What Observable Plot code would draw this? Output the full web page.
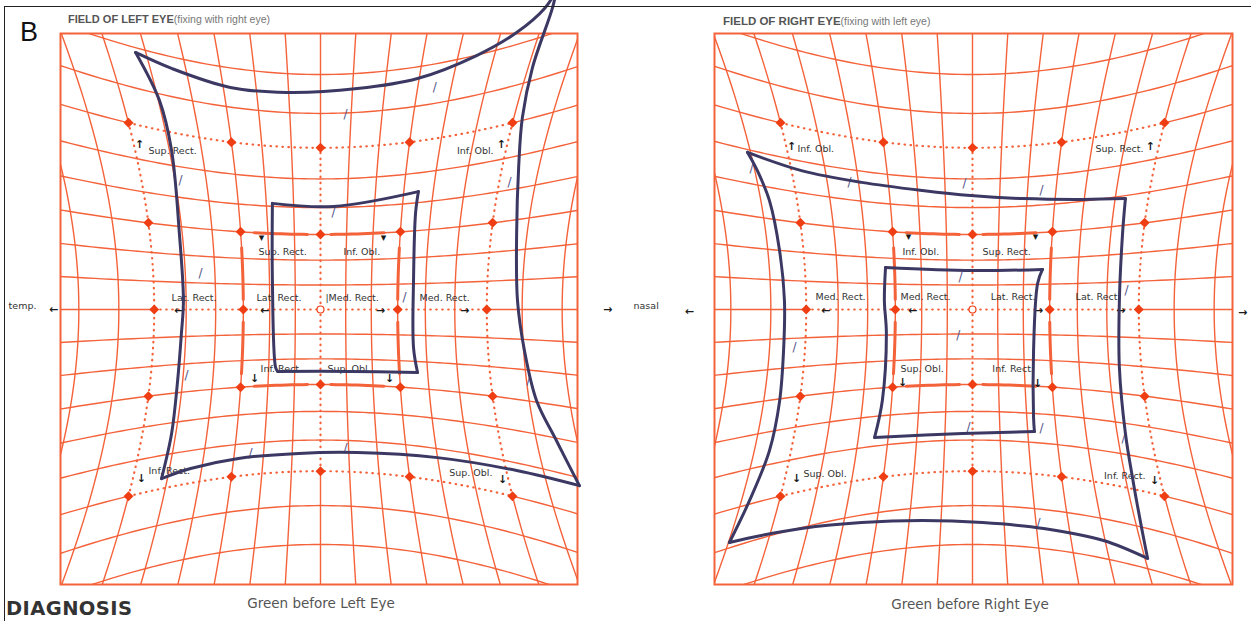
<!DOCTYPE html>
<html><head><meta charset="utf-8">
<script src="https://cdn.jsdelivr.net/npm/d3@7"></script>
<script src="https://cdn.jsdelivr.net/npm/@observablehq/plot@0.6"></script>
<style>
body{margin:0;background:#fff;}
#fig{position:relative;width:1251px;height:621px;overflow:hidden;background:#fff;}
.abs{position:absolute;white-space:nowrap;line-height:1;}
.pan{position:absolute;top:0;}
</style></head><body><div id="fig"></div>
<script>
// ---------- data ----------
// Hess grid lines every 5 degrees (horizontal angle theta / vertical angle phi)
const gridDeg = [-45,-40,-35,-30,-25,-20,-15,-10,-5,0,5,10,15,20,25,30,35,40,45];
// test points (degrees)
const outerDots = [[-30,30],[-15,30],[0,30],[15,30],[30,30],[-30,15],[30,15],[-30,0],[30,0],[-30,-15],[30,-15],[-30,-30],[-15,-30],[0,-30],[15,-30],[30,-30]];
const innerDots = [[-15,15],[0,15],[15,15],[-15,0],[15,0],[-15,-15],[0,-15],[15,-15]];

// plotted fields (screen units), one array per side: top, right, bottom, left
const leftOuter = [
  [[-0.642,0.918],[-0.517,0.861],[-0.313,0.793],[-0.118,0.775],[0.128,0.789],[0.337,0.825],[0.542,0.907],[0.681,0.989],[0.778,1.075],[0.819,1.139]],
  [[0.819,1.139],[0.806,1.079],[0.736,0.864],[0.701,0.686],[0.688,0.507],[0.681,0.271],[0.684,0.032],[0.708,-0.146],[0.750,-0.325],[0.819,-0.468],[0.899,-0.629]],
  [[0.899,-0.629],[0.681,-0.575],[0.406,-0.529],[0.128,-0.511],[-0.076,-0.514],[-0.285,-0.532],[-0.451,-0.568],[-0.552,-0.604]],
  [[-0.552,-0.604],[-0.517,-0.443],[-0.497,-0.264],[-0.483,-0.086],[-0.476,0.032],[-0.490,0.271],[-0.517,0.568],[-0.559,0.746],[-0.642,0.918]]
];
const leftInner = [
  [[-0.167,0.379],[0.045,0.368],[0.340,0.421]],
  [[0.340,0.421],[0.330,0.343],[0.323,0.104],[0.323,-0.136],[0.337,-0.225]],
  [[0.337,-0.225],[0.104,-0.221],[-0.149,-0.221]],
  [[-0.149,-0.221],[-0.156,-0.207],[-0.167,0.104],[-0.167,0.379]]
];
const rightOuter = [
  [[-0.781,0.561],[-0.594,0.496],[-0.385,0.454],[-0.174,0.425],[-0.007,0.407],[0.174,0.396],[0.385,0.393],[0.531,0.396]],
  [[0.531,0.396],[0.521,0.271],[0.510,0.032],[0.510,-0.207],[0.531,-0.443],[0.559,-0.621],[0.587,-0.779],[0.608,-0.889]],
  [[0.608,-0.889],[0.455,-0.825],[0.247,-0.782],[0.035,-0.761],[-0.174,-0.754],[-0.385,-0.761],[-0.594,-0.782],[-0.733,-0.807],[-0.844,-0.832]],
  [[-0.844,-0.832],[-0.774,-0.682],[-0.705,-0.504],[-0.670,-0.329],[-0.656,-0.146],[-0.653,0.032],[-0.670,0.211],[-0.705,0.389],[-0.747,0.496],[-0.781,0.561]]
];
const rightInner = [
  [[-0.302,0.150],[0.000,0.139],[0.243,0.143]],
  [[0.243,0.143],[0.226,0.093],[0.212,-0.146],[0.212,-0.386],[0.215,-0.436]],
  [[0.215,-0.436],[-0.035,-0.443],[-0.340,-0.457]],
  [[-0.340,-0.457],[-0.313,-0.325],[-0.299,-0.086],[-0.306,0.032],[-0.302,0.150]]
];

// small pencil ticks
const leftTicks = [[0.087,0.696],[0.397,0.793],[-0.486,0.461],[-0.417,0.129],[0.292,0.043],[-0.465,-0.236],[-0.243,-0.514],[0.087,-0.496],[0.722,-0.254],[0.656,0.454],[0.045,0.346]];
const rightTicks = [[-0.427,0.454],[-0.028,0.450],[0.240,0.425],[-0.767,0.504],[0.535,0.068],[-0.049,-0.093],[-0.618,-0.136],[-0.701,-0.493],[-0.014,-0.421],[0.240,-0.425],[0.229,-0.764],[0.524,-0.461],[-0.042,0.114]];

// labels: t = text, u/v = position (screen units), a = anchor
const leftLabels = [
  {t:"↑",u:-0.628,v:0.589,a:"middle"},{t:"Sup. Rect.",u:-0.597,v:0.568,a:"start"},
  {t:"Inf. Obl.",u:0.601,v:0.568,a:"end"},{t:"↑",u:0.628,v:0.589,a:"middle"},
  {t:"Sup. Rect.",u:-0.215,v:0.204,a:"start"},{t:"Inf. Obl.",u:0.080,v:0.204,a:"start"},
  {t:"▾",u:-0.205,v:0.257,a:"middle"},{t:"▾",u:0.219,v:0.257,a:"middle"},
  {t:"Lat. Rect.",u:-0.517,v:0.043,a:"start"},{t:"Lat. Rect.",u:-0.222,v:0.043,a:"start"},
  {t:"|Med. Rect.",u:0.017,v:0.043,a:"start"},{t:"Med. Rect.",u:0.344,v:0.043,a:"start"},
  {t:"←",u:-0.493,v:-0.004,a:"middle"},{t:"←",u:-0.194,v:-0.004,a:"middle"},
  {t:"→",u:0.208,v:-0.004,a:"middle"},{t:"→",u:0.500,v:-0.004,a:"middle"},
  {t:"temp.",u:-1.083,v:0.011,a:"start"},{t:"←",u:-0.927,v:0.0,a:"middle"},{t:"→",u:0.997,v:0.0,a:"middle"},
  {t:"Inf. Rect.",u:-0.208,v:-0.211,a:"start"},{t:"Sup. Obl.",u:0.024,v:-0.211,a:"start"},
  {t:"↓",u:-0.229,v:-0.246,a:"middle"},{t:"↓",u:0.240,v:-0.246,a:"middle"},
  {t:"↓",u:-0.622,v:-0.604,a:"middle"},{t:"Inf. Rect.",u:-0.597,v:-0.575,a:"start"},
  {t:"Sup. Obl.",u:0.597,v:-0.582,a:"end"},{t:"↓",u:0.632,v:-0.607,a:"middle"}
];
const rightLabels = [
  {t:"↑",u:-0.628,v:0.582,a:"middle"},{t:"Inf. Obl.",u:-0.608,v:0.575,a:"start"},
  {t:"Sup. Rect.",u:0.594,v:0.575,a:"end"},{t:"↑",u:0.618,v:0.582,a:"middle"},
  {t:"Inf. Obl.",u:-0.243,v:0.207,a:"start"},{t:"Sup. Rect.",u:0.035,v:0.207,a:"start"},
  {t:"▾",u:-0.222,v:0.261,a:"middle"},{t:"▾",u:0.219,v:0.261,a:"middle"},
  {t:"Med. Rect.",u:-0.545,v:0.046,a:"start"},{t:"Med. Rect.",u:-0.250,v:0.046,a:"start"},
  {t:"Lat. Rect.",u:0.063,v:0.046,a:"start"},{t:"Lat. Rect.",u:0.358,v:0.046,a:"start"},
  {t:"←",u:-0.510,v:-0.004,a:"middle"},{t:"←",u:-0.208,v:-0.004,a:"middle"},
  {t:"→",u:0.229,v:-0.004,a:"middle"},{t:"→",u:0.514,v:-0.004,a:"middle"},
  {t:"nasal",u:-1.177,v:0.011,a:"start"},{t:"←",u:-0.983,v:-0.007,a:"middle"},{t:"→",u:0.9375,v:-0.011,a:"middle"},
  {t:"Sup. Obl.",u:-0.250,v:-0.211,a:"start"},{t:"Inf. Rect.",u:0.069,v:-0.211,a:"start"},
  {t:"↓",u:-0.243,v:-0.261,a:"middle"},{t:"↓",u:0.226,v:-0.264,a:"middle"},
  {t:"↓",u:-0.611,v:-0.604,a:"middle"},{t:"Sup. Obl.",u:-0.587,v:-0.586,a:"start"},
  {t:"Inf. Rect.",u:0.601,v:-0.593,a:"end"},{t:"↓",u:0.632,v:-0.611,a:"middle"}
];

const titles = ["FIELD OF LEFT EYE","FIELD OF RIGHT EYE"];
const subtitles = ["(fixing with right eye)","(fixing with left eye)"];
const captions = ["Green before Left Eye","Green before Right Eye"];

// ---------- drawing ----------
const RED = "#f4623a", DOT = "#f03e14", BLUE = "#3b3963", TXT = "#333";
const FONT = "DejaVu Sans, sans-serif";
const rad = Math.PI/180;
function proj(t,p){ return [Math.tan(t*rad)/Math.cos(p*rad), Math.tan(p*rad)/Math.cos(t*rad)]; }
function seg(out, id, vertical, fixed, a0, a1){
  for (let a=a0; a<=a1+1e-9; a+=1){
    const [x,y] = vertical ? proj(fixed,a) : proj(a,fixed);
    out.push({x,y,z:id});
  }
}
const solid=[], dotted=[], thick=[];
let n=0;
for (const vertical of [true,false]) for (const g of gridDeg){
  if (g===0 || Math.abs(g)===30){
    seg(solid, n++, vertical, g, -56, -30); seg(solid, n++, vertical, g, 30, 56);
    seg(dotted, n++, vertical, g, -30, 30);
  } else {
    seg(solid, n++, vertical, g, -56, 56);
    if (Math.abs(g)===15){ seg(thick, n++, vertical, g, -12.5, -2); seg(thick, n++, vertical, g, 2, 12.5); }
  }
}
const toPt = a => ({x:proj(a[0],a[1])[0], y:proj(a[0],a[1])[1]});
const edges = poly => poly.flatMap((e,i) => e.map(p => ({x:p[0], y:p[1], z:i})));

function panel(opts){
  const {width, ml, mr, cx, outer, inner, labels, ticks} = opts;
  const fx=288, fy=280, cy=309, top=33, bottom=584, H=621;
  const xd=[(ml+opts.left-cx)/fx, (width-mr+opts.left-cx)/fx];
  const yd=[(cy-bottom)/fy, (cy-top)/fy];
  const isArrow = d => d.t.length===1;
  const txt = (a) => Plot.text(labels.filter(d=>d.a===a && !isArrow(d)), {x:"u", y:"v", text:"t", textAnchor:a, fontSize:9.5, fill:TXT, fontFamily:FONT});
  return Plot.plot({
    width, height:H, marginLeft:ml, marginRight:mr, marginTop:top, marginBottom:H-bottom,
    x:{axis:null, domain:xd}, y:{axis:null, domain:yd},
    style:{background:"transparent"},
    marks:[
      Plot.line(solid, {x:"x", y:"y", z:"z", stroke:RED, strokeWidth:1.4, clip:true}),
      Plot.line(dotted, {x:"x", y:"y", z:"z", stroke:RED, strokeWidth:2.2, strokeDasharray:"0.5,5.5", strokeLinecap:"round", clip:true}),
      Plot.line(thick, {x:"x", y:"y", z:"z", stroke:RED, strokeWidth:3, clip:true}),
      Plot.frame({stroke:RED, strokeWidth:2}),
      Plot.dot(outerDots.concat(innerDots).map(toPt), {x:"x", y:"y", symbol:"diamond2", r:4.5, fill:DOT, stroke:"none"}),
      Plot.dot([toPt([0,0])], {x:"x", y:"y", r:3.5, fill:"white", stroke:DOT, strokeWidth:1.2}),
      txt("start"), txt("end"),
      Plot.text(labels.filter(isArrow), {x:"u", y:"v", text:"t", fontSize:11, fill:"#1a1a1a", fontWeight:"bold", fontFamily:FONT}),
      Plot.text(ticks, {x:d=>d[0], y:d=>d[1], text:()=>"/", fontSize:12, fill:"#55558a", fontFamily:FONT}),
      Plot.line(edges(outer), {x:"x", y:"y", z:"z", stroke:BLUE, strokeWidth:3, curve:"catmull-rom", strokeLinecap:"round"}),
      Plot.line(edges(inner), {x:"x", y:"y", z:"z", stroke:BLUE, strokeWidth:3, curve:"catmull-rom", strokeLinecap:"round"})
    ]
  });
}

const fig = document.getElementById("fig");
const L = panel({left:0, width:625, ml:60, mr:48, cx:320, outer:leftOuter, inner:leftInner, labels:leftLabels, ticks:leftTicks});
L.classList.add("pan"); L.style.left="0px"; fig.appendChild(L);
const Rp = panel({left:625, width:626, ml:89, mr:19, cx:972, outer:rightOuter, inner:rightInner, labels:rightLabels, ticks:rightTicks});
Rp.classList.add("pan"); Rp.style.left="625px"; fig.appendChild(Rp);

function addText(text, css){
  const d=document.createElement("div"); d.className="abs"; d.textContent=text;
  Object.assign(d.style, css); fig.appendChild(d); return d;
}
// border
addText("", {left:"4px", top:"6px", width:"1260px", height:"640px", borderTop:"1.5px solid #222", borderLeft:"1.5px solid #222"});
addText("B", {left:"20px", top:"19px", fontFamily:"Liberation Sans, Arial, sans-serif", fontSize:"27px", color:"#111"});
const t1 = addText("", {left:"68px", top:"10px", fontFamily:"Liberation Sans, Arial, sans-serif", color:"#555"});
t1.innerHTML = `<span style="font-weight:bold;font-size:11px">${titles[0]}</span><span style="font-size:10.5px;color:#777">${subtitles[0]}</span>`;
const t2 = addText("", {left:"723px", top:"12px", fontFamily:"Liberation Sans, Arial, sans-serif", color:"#555"});
t2.innerHTML = `<span style="font-weight:bold;font-size:11.5px">${titles[1]}</span><span style="font-size:10.5px;color:#777">${subtitles[1]}</span>`;
addText(captions[0], {left:"321px", top:"597px", transform:"translateX(-50%)", fontFamily:FONT, fontSize:"13.5px", color:"#555"});
addText(captions[1], {left:"970px", top:"598px", transform:"translateX(-50%)", fontFamily:FONT, fontSize:"13.5px", color:"#555"});
addText("DIAGNOSIS", {left:"6px", top:"599px", fontFamily:"DejaVu Sans, sans-serif", fontWeight:"bold", fontSize:"19.5px", letterSpacing:"0.4px", color:"#333"});
</script></body></html>
